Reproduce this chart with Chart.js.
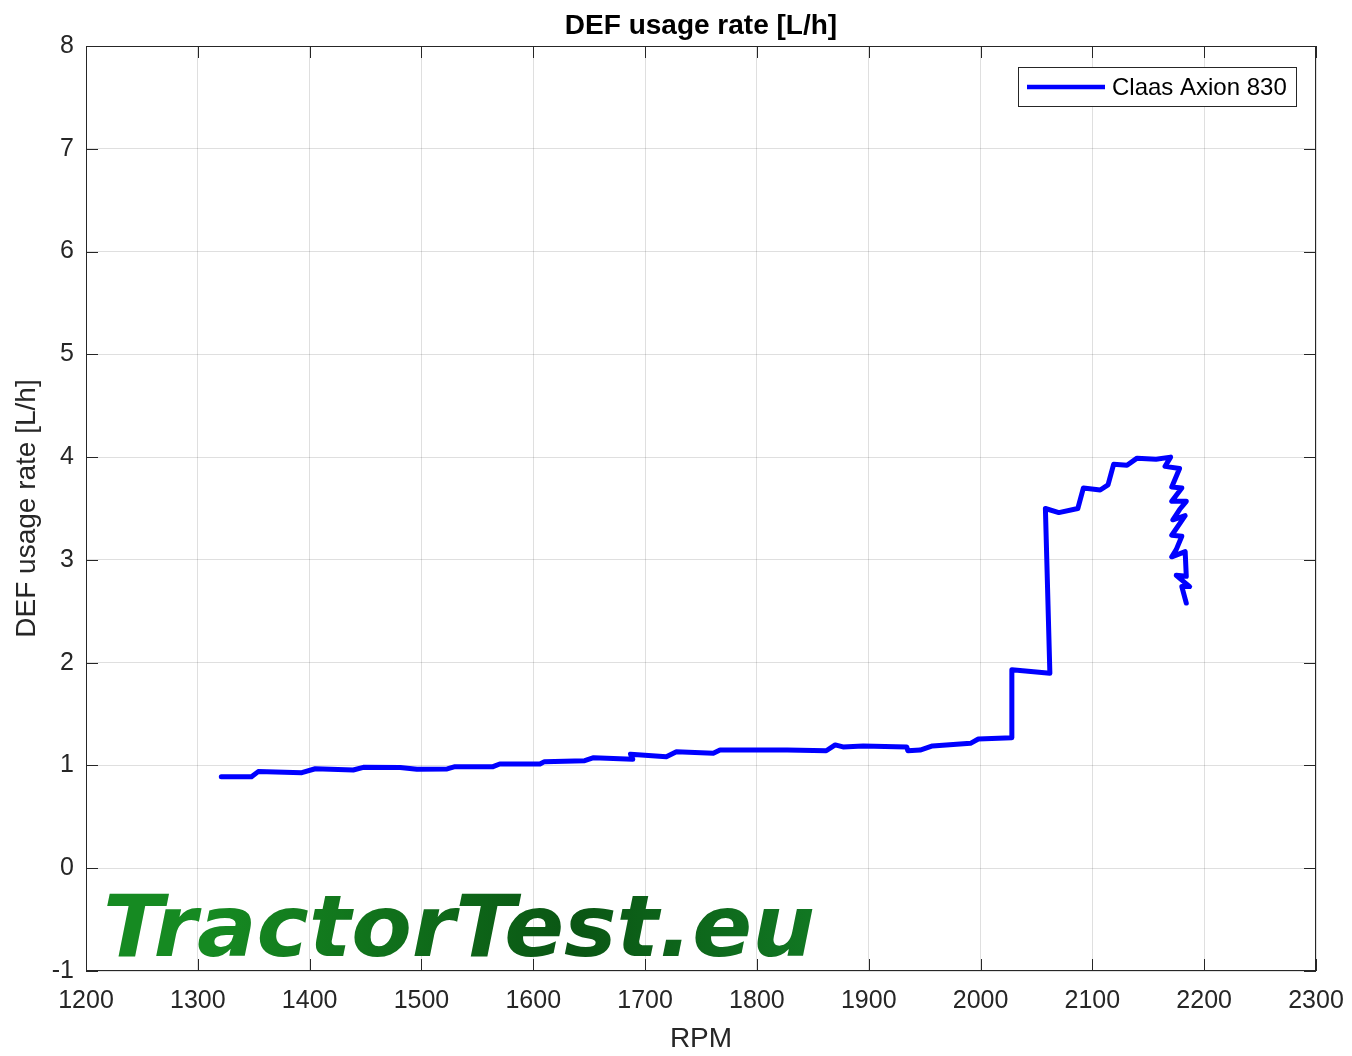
<!DOCTYPE html>
<html lang="en">
<head>
    <meta charset="UTF-8" />
    <title>DEF usage rate</title>
    <script src="https://cdn.jsdelivr.net/npm/chart.js@4.4.1/dist/chart.umd.min.js"></script>
    <style>
        html, body { margin: 0; padding: 0; background: #fff; }
        #wrap { width: 1352px; height: 1056px; }
    </style>
</head>
<body>
    <div id="wrap"><canvas id="defChart"></canvas></div>

<script>
    // data
    const seriesName = 'Claas Axion 830';
    const rpm = [1321, 1348, 1354, 1393, 1405, 1439, 1448, 1481, 1496, 1523, 1530, 1564, 1570, 1606, 1610, 1646,
        1654, 1689, 1687, 1719, 1728, 1761, 1767, 1827, 1862, 1870, 1877, 1895, 1934, 1935, 1946, 1957,
        1991, 1998, 2028, 2028, 2062, 2058, 2070, 2087, 2092, 2107, 2114, 2119, 2131, 2140, 2157, 2170,
        2165, 2178, 2171, 2180, 2171, 2184, 2178, 2172, 2183, 2171, 2180, 2175, 2171, 2183, 2184, 2175,
        2187, 2180, 2184];
    const defRate = [0.89, 0.89, 0.94, 0.93, 0.968, 0.956, 0.982, 0.98, 0.963, 0.966, 0.988, 0.988, 1.014, 1.014, 1.037, 1.046,
        1.076, 1.06, 1.11, 1.085, 1.134, 1.118, 1.15, 1.15, 1.143, 1.2, 1.18, 1.19, 1.18, 1.143, 1.15, 1.19,
        1.215, 1.257, 1.27, 1.93, 1.897, 3.50, 3.46, 3.50, 3.70, 3.68, 3.73, 3.93, 3.92, 3.99, 3.98, 4.00,
        3.91, 3.89, 3.71, 3.70, 3.57, 3.57, 3.49, 3.39, 3.43, 3.24, 3.23, 3.10, 3.03, 3.08, 2.84, 2.85,
        2.74, 2.74, 2.58];

    const xTicks = [1200, 1300, 1400, 1500, 1600, 1700, 1800, 1900, 2000, 2100, 2200, 2300];
    const yTicks = [-1, 0, 1, 2, 3, 4, 5, 6, 7, 8];

    const FONT = "'Liberation Sans', Arial, Helvetica, sans-serif";
    const INK = '#262626';

    const points = rpm.map((x, i) => ({ x: x, y: defRate[i] }));

    // title, box, inner ticks, watermark and legend
    const matlabLook = {
        id: 'matlabLook',
        beforeDatasetsDraw(chart) {
            const { ctx } = chart;
            ctx.save();
            // watermark
            const txt = 'TractorTest.eu';
            ctx.font = "italic bold 86px 'DejaVu Sans', sans-serif";
            const w = ctx.measureText(txt).width;
            const sx = 712 / w;
            const grad = ctx.createLinearGradient(103, 0, 815, 0);
            grad.addColorStop(0, '#168a22');
            grad.addColorStop(0.5, '#0a5614');
            grad.addColorStop(1, '#15892a');
            ctx.translate(103, 956);
            ctx.scale(sx, 1);
            ctx.fillStyle = grad;
            ctx.textBaseline = 'alphabetic';
            ctx.textAlign = 'left';
            ctx.fillText(txt, 0, 0);
            ctx.restore();
        },
        afterDraw(chart) {
            const { ctx, chartArea: a, scales } = chart;
            ctx.save();
            // box
            ctx.strokeStyle = INK;
            ctx.lineWidth = 1;
            ctx.strokeRect(a.left + 0.5, a.top + 0.5, a.right - a.left - 1, a.bottom - a.top - 1);
            // inner tick marks
            const tl = 12;
            ctx.beginPath();
            xTicks.forEach(v => {
                const px = Math.round(scales.x.getPixelForValue(v)) + 0.5;
                ctx.moveTo(px, a.bottom); ctx.lineTo(px, a.bottom - tl);
                ctx.moveTo(px, a.top); ctx.lineTo(px, a.top + tl);
            });
            yTicks.forEach(v => {
                const py = Math.round(scales.y.getPixelForValue(v)) + 0.5;
                ctx.moveTo(a.left, py); ctx.lineTo(a.left + tl, py);
                ctx.moveTo(a.right, py); ctx.lineTo(a.right - tl, py);
            });
            ctx.stroke();

            // title
            ctx.fillStyle = '#000';
            ctx.font = 'bold 28px ' + FONT;
            ctx.textAlign = 'center';
            ctx.textBaseline = 'alphabetic';
            ctx.fillText('DEF usage rate [L/h]', (a.left + a.right) / 2, 34);

            // legend
            const lx = 1018, ly = 67, lw = 278, lh = 39;
            ctx.fillStyle = '#fff';
            ctx.fillRect(lx, ly, lw, lh);
            ctx.strokeStyle = INK;
            ctx.strokeRect(lx + 0.5, ly + 0.5, lw, lh);
            ctx.strokeStyle = '#0000ff';
            ctx.lineWidth = 4.5;
            ctx.beginPath();
            ctx.moveTo(1027, 87); ctx.lineTo(1105, 87);
            ctx.stroke();
            ctx.fillStyle = '#000';
            ctx.font = '24px ' + FONT;
            ctx.textAlign = 'left';
            ctx.textBaseline = 'middle';
            ctx.fillText(seriesName, 1112, 88);
            ctx.restore();
        }
    };

    new Chart(document.getElementById('defChart'), {
        type: 'scatter',
        data: {
            datasets: [{
                label: seriesName,
                data: points,
                showLine: true,
                borderColor: '#0000ff',
                backgroundColor: '#0000ff',
                borderWidth: 5,
                borderJoinStyle: 'round',
                borderCapStyle: 'round',
                pointRadius: 0,
                tension: 0
            }]
        },
        options: {
            responsive: true,
            maintainAspectRatio: false,
            animation: false,
            layout: { padding: { top: 46, right: 36, left: 0, bottom: 0 } },
            plugins: {
                legend: { display: false },
                tooltip: { enabled: false },
                title: { display: false }
            },
            scales: {
                x: {
                    type: 'linear',
                    min: 1200,
                    max: 2300,
                    afterBuildTicks: s => { s.ticks = xTicks.map(v => ({ value: v })); },
                    afterFit: s => { s.height = 85; s.paddingLeft = 0; s.paddingRight = 0; },
                    grid: { color: 'rgba(38,38,38,0.15)', drawTicks: false },
                    border: { display: false },
                    ticks: { color: INK, padding: 15, maxRotation: 0, callback: v => String(v), font: { size: 25, family: FONT } },
                    title: { display: true, text: 'RPM', color: INK, padding: { top: -2, bottom: 0 }, font: { size: 28, family: FONT } }
                },
                y: {
                    type: 'linear',
                    min: -1,
                    max: 8,
                    afterBuildTicks: s => { s.ticks = yTicks.map(v => ({ value: v })); },
                    afterFit: s => { s.width = 86; s.paddingTop = 0; s.paddingBottom = 0; },
                    grid: { color: 'rgba(38,38,38,0.15)', drawTicks: false },
                    border: { display: false },
                    ticks: { color: INK, padding: 12, callback: v => String(v), font: { size: 25, family: FONT } },
                    title: { display: true, text: 'DEF usage rate [L/h]', color: INK, padding: { top: 10, bottom: 0 }, font: { size: 28, family: FONT } }
                }
            }
        },
        plugins: [matlabLook]
    });
</script>
</body>
</html>
